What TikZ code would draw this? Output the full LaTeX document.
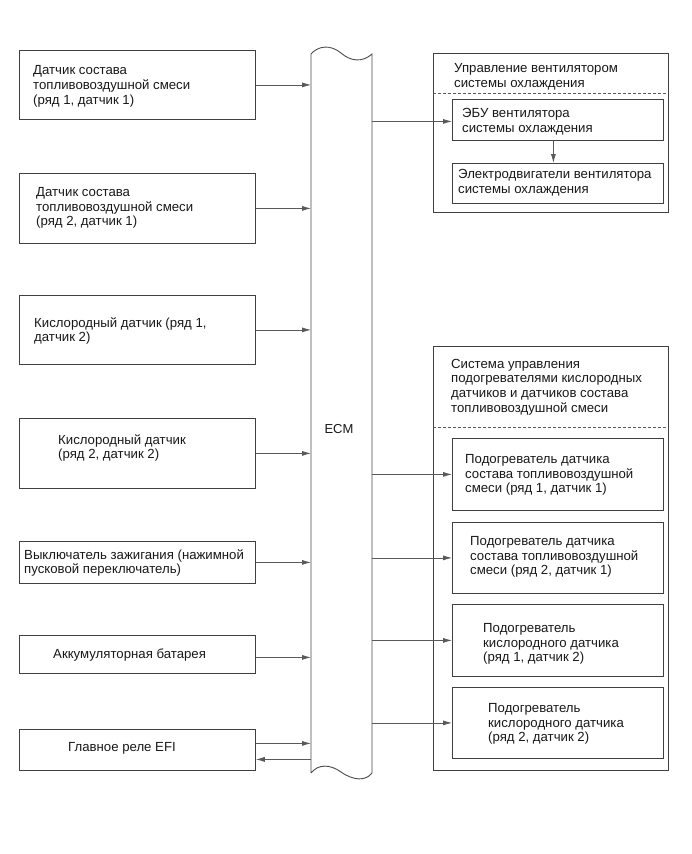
\documentclass[tikz,border=0pt]{standalone}
\usepackage{fontspec}
\setmainfont{Liberation Sans}
\usetikzlibrary{arrows.meta}
\tikzset{
  box/.style={draw=black!75, line width=0.8pt, anchor=north west, inner sep=0pt},
  txt/.style={anchor=west, align=left, inner sep=0pt, font=\fontsize{13.2}{14.8}\selectfont, text=black!90},
  arr/.style={draw=black!65, line width=0.8pt, -{Latex[length=9pt,width=5pt]}},
  sep/.style={draw=black!65, line width=0.7pt, dash pattern=on 3pt off 2pt},
  ecmline/.style={draw=black!70, line width=0.9pt}
}
\newcommand{\mkbox}[5]{\node[box, minimum width=#3pt, minimum height=#4pt] (#5) at (#1,#2) {};}
\begin{document}
\begin{tikzpicture}[x=1pt,y=-1pt]
\useasboundingbox (0,0) rectangle (691,854);
\fill[white] (0,0) rectangle (691,854);
% ECM
\coordinate (ecmL) at (311,0);
\coordinate (ecmR) at (372,0);
\draw[ecmline] (311,773) -- (311,54)
  .. controls (318,46) and (330,44) .. (341,53)
  .. controls (350,61) and (362,63) .. (372,54)
  -- (372,773)
  .. controls (366,781) and (354,781) .. (341,772)
  .. controls (330,764) and (318,764) .. (311,773);
\node[font=\fontsize{13}{14}\selectfont, inner sep=0pt, text=black!90] (ecm) at (339,429) {ECM};
% left boxes
\mkbox{19}{50}{236}{69}{l1}
\mkbox{19}{173}{236}{70}{l2}
\mkbox{19}{295}{236}{69}{l3}
\mkbox{19}{418}{236}{70}{l4}
\mkbox{19}{541}{236}{42}{l5}
\mkbox{19}{635}{236}{38}{l6}
\mkbox{19}{729}{236}{41}{l7}
\node[txt] (t1) at (33,86.5) {Датчик состава\\топливовоздушной смеси\\(ряд 1, датчик 1)};
\node[txt] (t2) at (36,208) {Датчик состава\\топливовоздушной смеси\\(ряд 2, датчик 1)};
\node[txt] (t3) at (34,331) {Кислородный датчик (ряд 1,\\датчик 2)};
\node[txt] (t4) at (58,448) {Кислородный датчик\\(ряд 2, датчик 2)};
\node[txt] (t5) at (24,563) {Выключатель зажигания (нажимной\\пусковой переключатель)};
\node[txt] (t6) at (53,655.5) {Аккумуляторная батарея};
\node[txt] (t7) at (68,748.5) {Главное реле EFI};
\draw[arr] (l1.east) -- (l1.east -| ecmL);
\draw[arr] (l2.east) -- (l2.east -| ecmL);
\draw[arr] (l3.east) -- (l3.east -| ecmL);
\draw[arr] (l4.east) -- (l4.east -| ecmL);
\draw[arr] (l5.east) -- (l5.east -| ecmL);
\draw[arr] ([yshift=-3pt]l6.east) -- ([yshift=-3pt]l6.east -| ecmL);
\draw[arr] ([yshift=6.5pt]l7.east) -- ([yshift=6.5pt]l7.east -| ecmL);
\draw[arr] ([yshift=-9.5pt]l7.east -| ecmL) -- ([yshift=-9.5pt]l7.east);
% right panel 1
\mkbox{433}{53}{235}{159}{p1}
\draw[sep] (433,93) -- (668,93);
\node[txt] (pt1) at (454,77) {Управление вентилятором\\системы охлаждения};
\mkbox{452}{99}{211}{41}{fe}
\mkbox{452}{163}{211}{40}{fm}
\node[txt] (tfe) at (462,122) {ЭБУ вентилятора\\системы охлаждения};
\node[txt] (tfm) at (458,183) {Электродвигатели вентилятора\\системы охлаждения};
\draw[arr] ([yshift=-1.5pt]fe.west -| ecmR) -- ([yshift=-1.5pt]fe.west);
\draw[arr] ([xshift=-4.5pt]fe.south) -- ([xshift=-4.5pt]fm.north);
% right panel 2
\mkbox{433}{346}{235}{424}{p2}
\draw[sep] (433,427) -- (668,427);
\node[txt] (pt2) at (451,387) {Система управления\\подогревателями кислородных\\датчиков и датчиков состава\\топливовоздушной смеси};
\mkbox{452}{438}{211}{72}{h1}
\mkbox{452}{522}{211}{71}{h2}
\mkbox{452}{604}{211}{72}{h3}
\mkbox{452}{687}{211}{71}{h4}
\node[txt] (th1) at (465,475) {Подогреватель датчика\\состава топливовоздушной\\смеси (ряд 1, датчик 1)};
\node[txt] (th2) at (470,557) {Подогреватель датчика\\состава топливовоздушной\\смеси (ряд 2, датчик 1)};
\node[txt] (th3) at (483,644) {Подогреватель\\кислородного датчика\\(ряд 1, датчик 2)};
\node[txt] (th4) at (488,724) {Подогреватель\\кислородного датчика\\(ряд 2, датчик 2)};
\draw[arr] (h1.west -| ecmR) -- (h1.west);
\draw[arr] (h2.west -| ecmR) -- (h2.west);
\draw[arr] (h3.west -| ecmR) -- (h3.west);
\draw[arr] (h4.west -| ecmR) -- (h4.west);
\end{tikzpicture}
\end{document}
